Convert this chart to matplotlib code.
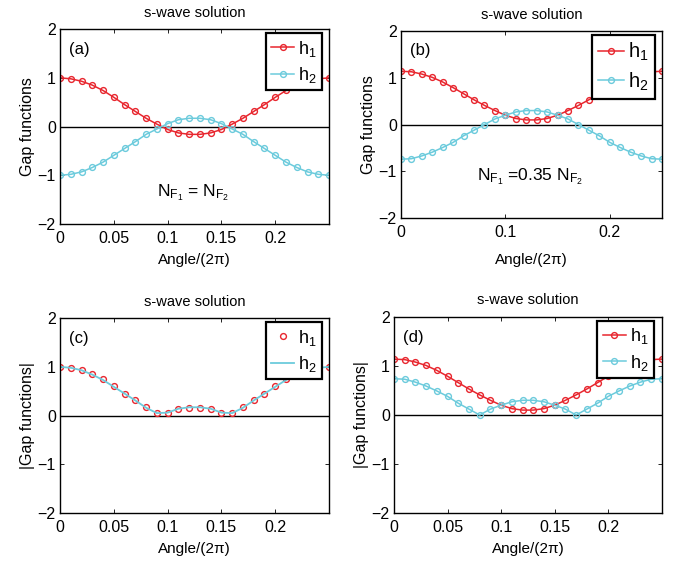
import numpy as np
import matplotlib
matplotlib.use('Agg')
import matplotlib.pyplot as plt

plt.rcParams['font.family'] = ['Liberation Sans', 'DejaVu Sans']
plt.rcParams['mathtext.default'] = 'regular'

# Angulo / (2 pi)
angulo = [0.00, 0.01, 0.02, 0.03, 0.04, 0.05, 0.06, 0.07, 0.08, 0.09, 0.10, 0.11, 0.12,
          0.13, 0.14, 0.15, 0.16, 0.17, 0.18, 0.19, 0.20, 0.21, 0.22, 0.23, 0.24, 0.25]

# (a) N_F1 = N_F2
h1_a = [1.00, 0.98, 0.93, 0.85, 0.74, 0.60, 0.45, 0.31, 0.17, 0.05, -0.06, -0.13, -0.16,
        -0.16, -0.13, -0.06, 0.05, 0.17, 0.31, 0.45, 0.60, 0.74, 0.85, 0.93, 0.98, 1.00]
h2_a = [-1.00, -0.98, -0.93, -0.84, -0.73, -0.59, -0.45, -0.31, -0.16, -0.05, 0.06, 0.14, 0.17,
        0.17, 0.14, 0.06, -0.05, -0.16, -0.31, -0.45, -0.59, -0.73, -0.84, -0.93, -0.98, -1.00]

# (b) N_F1 = 0.35 N_F2
h1_b = [1.14, 1.13, 1.08, 1.01, 0.91, 0.79, 0.66, 0.53, 0.41, 0.30, 0.20, 0.13, 0.10,
        0.10, 0.13, 0.20, 0.30, 0.41, 0.53, 0.66, 0.79, 0.91, 1.01, 1.08, 1.13, 1.14]
h2_b = [-0.74, -0.73, -0.67, -0.59, -0.49, -0.38, -0.24, -0.12, 0.00, 0.12, 0.20, 0.27, 0.30,
        0.30, 0.27, 0.20, 0.12, 0.00, -0.12, -0.24, -0.38, -0.49, -0.59, -0.67, -0.73, -0.74]

# (c) y (d): valores absolutos
h1_c = np.abs(h1_a)
h2_c = np.abs(h2_a)
h1_d = np.abs(h1_b)
h2_d = np.abs(h2_b)

rojo = '#e8262e'
cian = '#6ccbdc'

fig = plt.figure(figsize=(6.73, 5.65), dpi=100)
ax_a = fig.add_axes([0.0892, 0.6035, 0.3997, 0.345])
ax_b = fig.add_axes([0.5958, 0.614, 0.3878, 0.331])
ax_c = fig.add_axes([0.0892, 0.092, 0.3997, 0.345])
ax_d = fig.add_axes([0.5854, 0.092, 0.398, 0.347])


def estilo(ax, etiqueta_y, ticks_x, letra, pad_x=5):
    ax.axhline(0, color='black', lw=1.0, zorder=1)
    ax.set_xlim(0, 0.25)
    ax.set_ylim(-2, 2)
    ax.set_xticks(ticks_x)
    ax.set_xticklabels([('%g' % t) for t in ticks_x])
    ax.set_yticks([-2, -1, 0, 1, 2])
    ax.set_yticklabels(['\u22122', '\u22121', '0', '1', '2'])
    ax.tick_params(direction='in', top=True, right=True, length=3, width=0.6,
                   labelsize=11.5)
    ax.tick_params(axis='x', pad=5)
    ax.tick_params(axis='y', pad=3)
    for s in ax.spines.values():
        s.set_linewidth(1.0)
    ax.set_title('s-wave solution', fontsize=10.5, pad=9)
    ax.set_xlabel('Angle/(2\u03c0)', fontsize=11, labelpad=pad_x)
    ax.set_ylabel(etiqueta_y, fontsize=11.5, labelpad=2)
    ax.text(0.035, 0.895, letra, transform=ax.transAxes, fontsize=12, va='center')


def leyenda(ax, anchor, tam):
    leg = ax.legend(loc='upper right', bbox_to_anchor=anchor, fontsize=tam,
                    fancybox=False, framealpha=1, edgecolor='black',
                    handlelength=1.3, handletextpad=0.2, borderpad=0.3,
                    borderaxespad=0, labelspacing=0.35)
    leg.get_frame().set_linewidth(1.6)
    leg.set_zorder(5)


ticks1 = [0, 0.05, 0.1, 0.15, 0.2]
ticks2 = [0, 0.1, 0.2]

# (a)
ax_a.plot(angulo, h1_a, '-o', color=rojo, ms=4.2, mfc='none', mew=1.0, lw=1.1, label='$h_1$')
ax_a.plot(angulo, h2_a, '-o', color=cian, ms=4.2, mfc='none', mew=1.0, lw=1.1, label='$h_2$')
estilo(ax_a, 'Gap functions', ticks1, '(a)')
ax_a.text(0.124, -1.35, '$N_{F_1}$ = $N_{F_2}$', ha='center', va='center', fontsize=12.5)
leyenda(ax_a, (0.974, 0.979), 13)

# (b)
ax_b.plot(angulo, h1_b, '-o', color=rojo, ms=4.2, mfc='none', mew=1.0, lw=1.1, label='$h_1$')
ax_b.plot(angulo, h2_b, '-o', color=cian, ms=4.2, mfc='none', mew=1.0, lw=1.1, label='$h_2$')
estilo(ax_b, 'Gap functions', ticks2, '(b)', pad_x=9)
ax_b.text(0.1236, -1.12, '$N_{F_1}$ =0.35 $N_{F_2}$', ha='center', va='center', fontsize=12.5)
leyenda(ax_b, (0.973, 0.979), 14.5)

# (c)
ax_c.plot(angulo, h1_c, 'o', color=rojo, ms=4.2, mfc='none', mew=1.0, label='$h_1$')
ax_c.plot(angulo, h2_c, '-', color=cian, lw=1.3, label='$h_2$')
estilo(ax_c, '|Gap functions|', ticks1, '(c)')
leyenda(ax_c, (0.974, 0.979), 13)

# (d)
ax_d.plot(angulo, h1_d, '-o', color=rojo, ms=4.2, mfc='none', mew=1.0, lw=1.1, label='$h_1$')
ax_d.plot(angulo, h2_d, '-o', color=cian, ms=4.2, mfc='none', mew=1.0, lw=1.1, label='$h_2$')
estilo(ax_d, '|Gap functions|', ticks1, '(d)')
leyenda(ax_d, (0.97, 0.979), 13)

fig.savefig('out.png', dpi=100)
